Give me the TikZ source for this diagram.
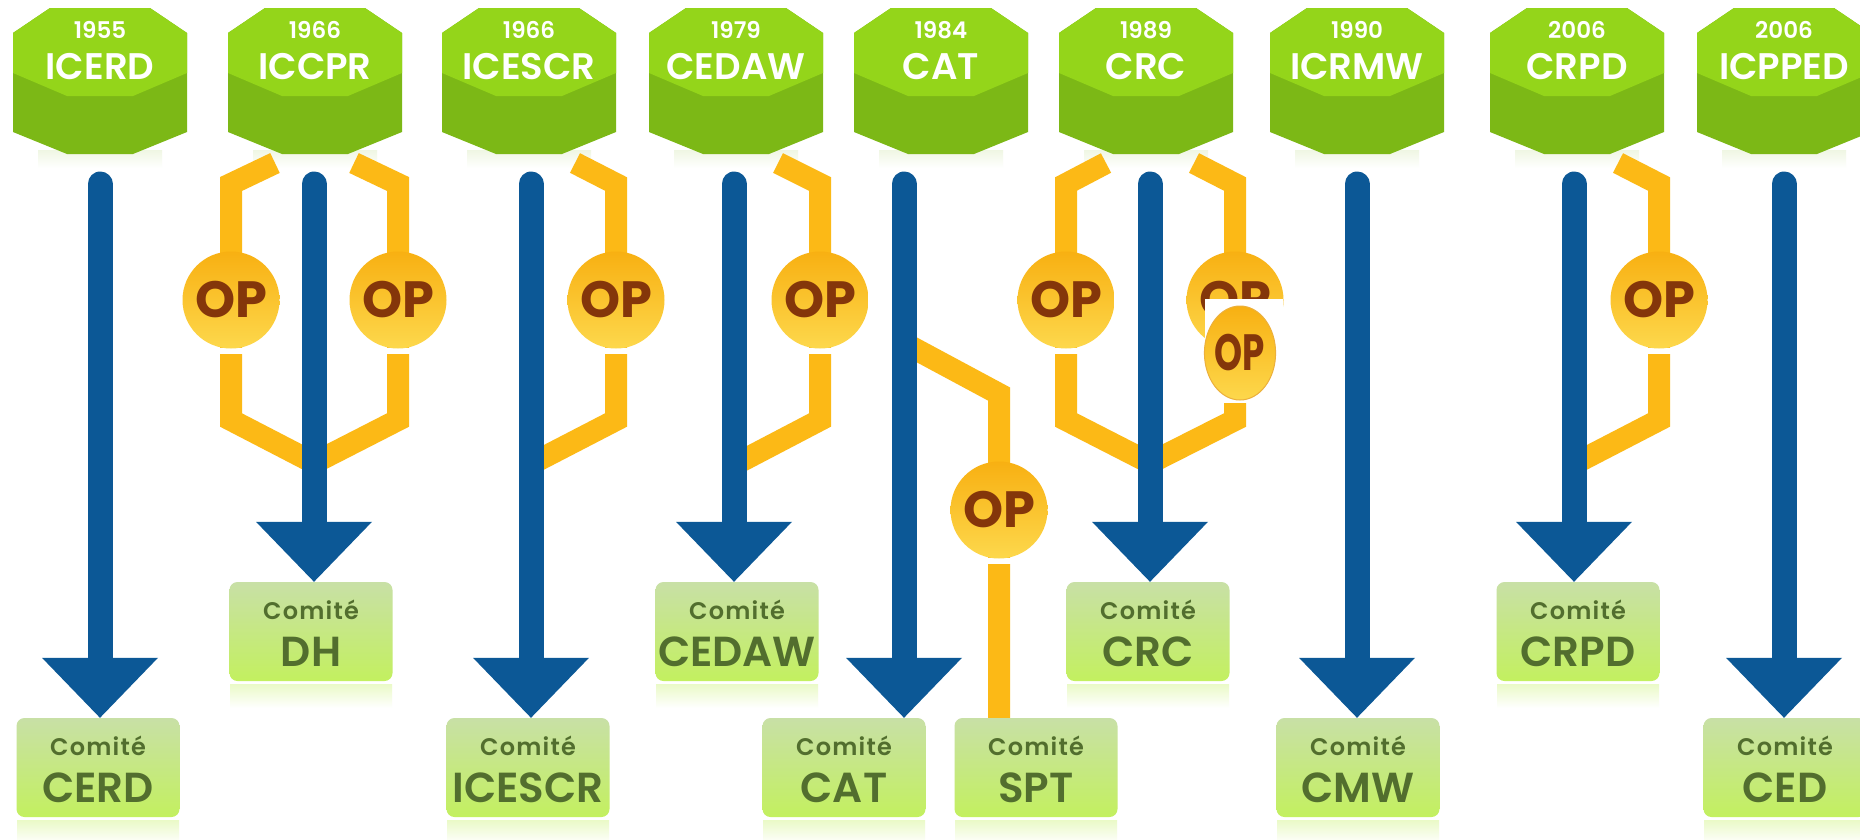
\documentclass[tikz,border=0pt]{standalone}
\usepackage{fontspec}
\setmainfont{Poppins}[BoldFont={Poppins SemiBold}]
\newfontfamily\opfont{Poppins Bold}
\usetikzlibrary{calc,shapes.geometric}

\definecolor{treatyblue}{RGB}{12,88,150}
\definecolor{opgold}{RGB}{252,185,22}
\definecolor{coinTop}{RGB}{248,176,18}
\definecolor{coinBot}{RGB}{253,216,76}
\definecolor{coinText}{RGB}{132,54,10}
\definecolor{prismTop}{RGB}{148,213,26}
\definecolor{prismSide}{RGB}{124,184,22}
\definecolor{boxTop}{RGB}{200,224,166}
\definecolor{boxBot}{RGB}{195,240,95}
\definecolor{boxText}{RGB}{82,110,46}

\tikzset{
  shaftline/.style={draw=treatyblue, line width=25pt, line cap=round},
  opline/.style={draw=opgold, line width=22pt, line join=miter},
  coin/.style={circle, minimum size=97pt, inner sep=0pt, top color=coinTop,
    bottom color=coinBot, text=coinText, font=\opfont\fontsize{51}{51}\selectfont},
  coinoval/.style={ellipse, minimum width=66pt, minimum height=94pt, inner sep=0pt,
    top color=coinTop, bottom color=coinBot, draw={rgb,255:red,236;green,176;blue,60},
    line width=1pt, text=coinText, font=\opfont\fontsize{51}{51}\selectfont},
  yearlbl/.style={text=white, font=\bfseries\fontsize{23}{23}\selectfont, anchor=base, inner sep=0pt},
  treatylbl/.style={text=white, font=\bfseries\fontsize{37}{37}\selectfont, anchor=base, inner sep=0pt},
  combox/.style={rounded corners=8pt, minimum width=163pt, minimum height=99pt,
    top color=boxTop, bottom color=boxBot, inner sep=0pt},
  comword/.style={text=boxText, font=\bfseries\fontsize{24}{24}\selectfont\addfontfeature{LetterSpace=5},
    anchor=base, inner sep=0pt},
  comlbl/.style={text=boxText, font=\bfseries\fontsize{42}{42}\selectfont, anchor=base, inner sep=0pt},
}

% #1 node name, #2 centre x, #3 year, #4 acronym: a two-tone green prism
\newcommand\treaty[4]{%
  \fill[top color=prismSide!12, bottom color=white] ({#2-62},150) rectangle ({#2+62},168);
  \fill[prismSide] ({#2-50},8) -- ({#2+50},8) -- ({#2+87},33) -- ({#2+87},132) --
    ({#2+33},154) -- ({#2-33},154) -- ({#2-87},132) -- ({#2-87},33) -- cycle;
  \fill[prismTop] ({#2-50},8) -- ({#2+50},8) -- ({#2+87},33) -- ({#2+87},73) --
    ({#2+33},96) -- ({#2-33},96) -- ({#2-87},73) -- ({#2-87},33) -- cycle;
  \node[yearlbl] (#1y) at (#2,38) {#3};
  \node[treatylbl] (#1) at (#2,79) {#4};
}

% #1 node name, #2 centre x, #3 top y, #4 committee acronym
\newcommand\committee[4]{%
  \fill[top color=boxBot!35, bottom color=white] ({#2-81},{#3+102}) rectangle ({#2+81},{#3+126});
  \node[combox] (#1) at (#2,{#3+49.5}) {};
  \node[comword] (#1w) at ($(#1.north)+(0,38)$) {Comité};
  \node[comlbl] (#1l) at ($(#1.north)+(0,85)$) {#4};
}

% #1 start of the shaft, #2 tip of the arrow head
\newcommand\treatyarrow[2]{%
  \draw[shaftline] (#1) -- ($(#2)+(0,-58)$);
  \fill[treatyblue] ($(#2)+(-58,-60)$) -- ($(#2)+(58,-60)$) -- (#2) -- cycle;
}

\begin{document}
\begin{tikzpicture}[x=1pt,y=-1pt]
\useasboundingbox (0,0) rectangle (1860,839);
\clip (0,0) rectangle (1860,839);
\fill[white] (0,0) rectangle (1860,839);

% treaties
\treaty{icerd}{100}{1955}{ICERD}
\treaty{iccpr}{315}{1966}{ICCPR}
\treaty{icescr}{529}{1966}{ICESCR}
\treaty{cedaw}{736}{1979}{CEDAW}
\treaty{cat}{941}{1984}{CAT}
\treaty{crc}{1146}{1989}{CRC}
\treaty{icrmw}{1357}{1990}{ICRMW}
\treaty{crpd}{1577}{2006}{CRPD}
\treaty{icpped}{1784}{2006}{ICPPED}

% committees
\committee{cerd}{98}{718}{CERD}
\committee{dh}{311}{582}{DH}
\committee{icescrc}{528}{718}{ICESCR}
\committee{cedawc}{737}{582}{CEDAW}
\committee{catc}{844}{718}{CAT}
\committee{spt}{1036}{718}{SPT}
\committee{crcc}{1148}{582}{CRC}
\committee{cmw}{1358}{718}{CMW}
\committee{crpdc}{1578}{582}{CRPD}
\committee{ced}{1785}{718}{CED}

% tops of the treaty shafts
\coordinate (t1) at (100,184);
\coordinate (t2) at (314,184);
\coordinate (t3) at (531,184);
\coordinate (t4) at (734,184);
\coordinate (t5) at (904,184);
\coordinate (t6) at (1150,184);
\coordinate (t7) at (1357,184);
\coordinate (t8) at (1574,184);
\coordinate (t9) at (1784,184);

% optional protocol positions
\coordinate (c2a) at (231,300);
\coordinate (c2b) at (398,300);
\coordinate (c3) at (616,300);
\coordinate (c4) at (820,300);
\coordinate (c5) at (999,510);
\coordinate (c6a) at (1066,300);
\coordinate (c6b) at (1235,300);
\coordinate (c8) at (1659,300);

% protocol branches
\draw[opline] (275,163) -- (231,184) -- (c2a) -- (231,420) -- (314,463) -- (398,420) -- (c2b) -- (398,184) -- (354,163);
\draw[opline] (575,163) -- (616,184) -- (c3) -- (616,420) -- (531,464);
\draw[opline] (778,163) -- (820,184) -- (c4) -- (820,420) -- (734,465);
\draw[opline] (904,343) -- (999,394) -- (c5) -- (spt.north -| c5);
\draw[opline] (1106,163) -- (1066,184) -- (c6a) -- (1066,420) -- (1150,463) -- (1235,420) -- (c6b) -- (1235,184) -- (1194,163);
\draw[opline] (1618,163) -- (1659,184) -- (c8) -- (1659,420) -- (1574,464);

% protocol coins, with a short break in the line below each
\foreach \c in {c2a,c2b,c3,c4,c5,c6a,c6b,c8}{
  \fill[white] ($(\c)+(-12,48)$) rectangle ($(\c)+(12,54)$);
  \node[coin] (\c op) at (\c) {OP};
}
\fill[white] (1205,299) rectangle (1283,403);
\node[coinoval] (c6p) at (1240,353) {\scalebox{0.7}[1]{OP}};

% treaty arrows down to their committees
\coordinate (tip1) at (cerd.north -| t1);
\coordinate (tip2) at (dh.north -| t2);
\coordinate (tip3) at (icescrc.north -| t3);
\coordinate (tip4) at (cedawc.north -| t4);
\coordinate (tip5) at (catc.north -| t5);
\coordinate (tip6) at (crcc.north -| t6);
\coordinate (tip7) at (cmw.north -| t7);
\coordinate (tip8) at (crpdc.north -| t8);
\coordinate (tip9) at (ced.north -| t9);
\treatyarrow{t1}{tip1}
\treatyarrow{t2}{tip2}
\treatyarrow{t3}{tip3}
\treatyarrow{t4}{tip4}
\treatyarrow{t5}{tip5}
\treatyarrow{t6}{tip6}
\treatyarrow{t7}{tip7}
\treatyarrow{t8}{tip8}
\treatyarrow{t9}{tip9}
\end{tikzpicture}
\end{document}
